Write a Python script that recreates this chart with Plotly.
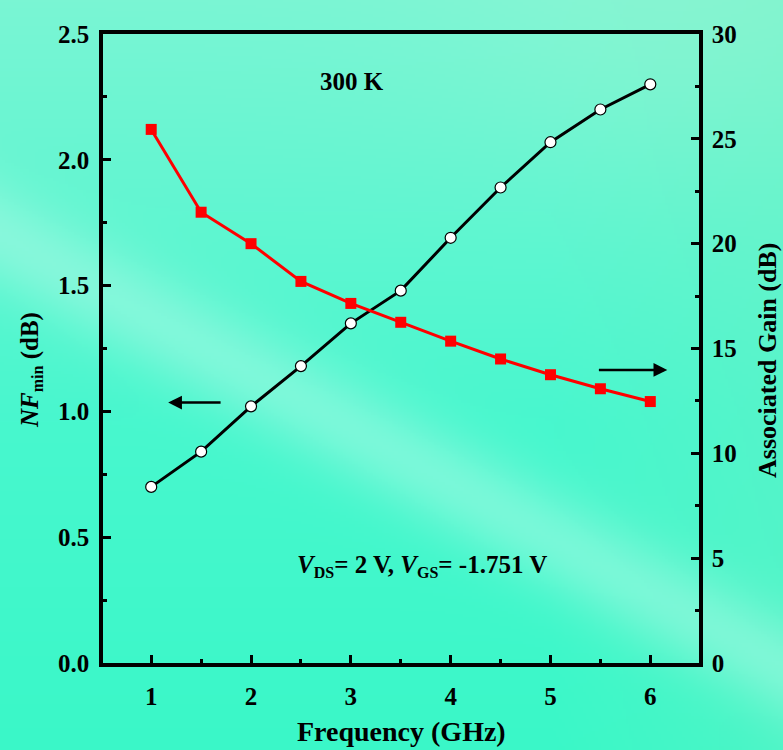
import base64, struct, zlib
import numpy as np
import plotly.graph_objects as go

# ---------------- data ----------------
freq_ghz = [1.0, 1.5, 2.0, 2.5, 3.0, 3.5, 4.0, 4.5, 5.0, 5.5, 6.0]
nf_min_db = [0.70, 0.84, 1.02, 1.18, 1.35, 1.48, 1.69, 1.89, 2.07, 2.20, 2.30]
assoc_gain_db = [25.45, 21.5, 20.0, 18.2, 17.15, 16.25, 15.35, 14.5, 13.75, 13.08, 12.47]
x_ticks = [1, 2, 3, 4, 5, 6]
nf_ticks = [0.0, 0.5, 1.0, 1.5, 2.0, 2.5]
gain_ticks = [0, 5, 10, 15, 20, 25, 30]

W, H = 783, 750
ML, MR, MT, MB = 103, 84, 34, 87
PW, PH = W - ML - MR, H - MT - MB
XR = [0.517, 6.488]
YR = [0.0, 2.5]


def px_x(p):  # pixel -> paper (decoration placement only)
    return (p - ML) / PW


def px_y(p):
    return (H - MB - p) / PH


# ---------------- background picture (soft teal gradient with diagonal streak) ----------------
def make_bg(w=261, h=250):
    sx, sy = W / w, H / h
    yy, xx = np.mgrid[0:h, 0:w].astype(float)
    X, Y = xx * sx, yy * sy
    top = np.array([122, 245, 212.0])
    mid = np.array([72, 247, 206.0])
    bot = np.array([58, 248, 200.0])
    t = np.clip(Y / 420.0, 0, 1)[..., None]
    base = top * (1 - t) + mid * t
    t2 = np.clip((Y - 420) / 330.0, 0, 1)[..., None]
    base = base * (1 - t2) + bot * t2
    rgt = np.clip((X - 550) / 233.0, 0, 1)[..., None] * 0.35
    base = base * (1 - rgt) + np.array([110, 240, 195.0]) * rgt
    d = (Y - (235 + 0.55 * X)) / np.sqrt(1 + 0.55 ** 2)
    g = np.exp(-(d / 48.0) ** 2)[..., None] * 0.45
    base = base * (1 - g) + np.array([185, 250, 232.0]) * g
    tr = np.exp(-(((X - 700) / 260.0) ** 2 + ((Y - 0) / 160.0) ** 2))[..., None] * 0.35
    base = base * (1 - tr) + np.array([160, 246, 210.0]) * tr
    arr = np.clip(base, 0, 255).astype(np.uint8)
    raw = b"".join(b"\x00" + arr[i].tobytes() for i in range(h))

    def chunk(tag, data):
        c = struct.pack(">I", len(data)) + tag + data
        return c + struct.pack(">I", zlib.crc32(tag + data) & 0xFFFFFFFF)

    png = b"\x89PNG\r\n\x1a\n" + chunk(b"IHDR", struct.pack(">IIBBBBB", w, h, 8, 2, 0, 0, 0)) \
        + chunk(b"IDAT", zlib.compress(raw, 9)) + chunk(b"IEND", b"")
    return "data:image/png;base64," + base64.b64encode(png).decode()


FONT = "Liberation Serif, Times New Roman, serif"

fig = go.Figure()
fig.add_trace(go.Scatter(
    x=freq_ghz, y=nf_min_db, mode="lines+markers", name="NFmin",
    line=dict(color="black", width=3),
    marker=dict(symbol="circle", size=11, color="white", line=dict(color="black", width=1.2)),
))
fig.add_trace(go.Scatter(
    x=freq_ghz, y=assoc_gain_db, yaxis="y2", mode="lines+markers", name="Associated Gain",
    line=dict(color="#ff0000", width=3),
    marker=dict(symbol="square", size=11, color="#ff0000"),
))

tickfont = dict(family=FONT, size=25, color="black", weight="bold")
axis_common = dict(showline=True, linewidth=3.5, linecolor="black", ticks="inside",
                   ticklen=8, tickwidth=3, tickcolor="black", showgrid=False, zeroline=False,
                   tickfont=tickfont, automargin=False)

fig.update_layout(
    width=W, height=H,
    margin=dict(l=ML, r=MR, t=MT, b=MB, autoexpand=False),
    paper_bgcolor="#55f3cc",
    plot_bgcolor="rgba(0,0,0,0)",
    showlegend=False,
    xaxis=dict(range=XR, tickvals=x_ticks, mirror=True,
               minor=dict(ticks="inside", ticklen=4, tickwidth=3, tickcolor="black", dtick=0.5, tick0=0.5),
               ticklabelstandoff=8,
               **axis_common),
    yaxis=dict(range=YR, tickvals=nf_ticks, tickformat=".1f",
               minor=dict(ticks="inside", ticklen=4, tickwidth=3, tickcolor="black", dtick=0.25, tick0=0),
               ticklabelstandoff=5,
               **axis_common),
    yaxis2=dict(range=[0, 30], tickvals=gain_ticks, overlaying="y", side="right",
                minor=dict(ticks="inside", ticklen=4, tickwidth=3, tickcolor="black", dtick=2.5, tick0=0),
                ticklabelstandoff=4,
                **axis_common),
    images=[dict(source=make_bg(), xref="paper", yref="paper",
                 x=px_x(0), y=px_y(0), sizex=W / PW, sizey=H / PH,
                 xanchor="left", yanchor="top", sizing="stretch", layer="below")],
)

annot_font = dict(family=FONT, size=25, color="black", weight="bold")
fig.add_annotation(x=3.01, y=2.31, xref="x", yref="y", text="300 K", showarrow=False, font=annot_font)
fig.add_annotation(x=3.71, y=0.385, xref="x", yref="y",
                   text="<i>V</i><sub><span style='font-size:16px'>DS</span></sub>= 2 V, "
                        "<i>V</i><sub><span style='font-size:16px'>GS</span></sub>= -1.751 V",
                   showarrow=False, font=annot_font)
# arrows pointing to the relevant axes
fig.add_annotation(x=1.17, y=1.035, ax=1.71, ay=1.035, xref="x", yref="y", axref="x", ayref="y",
                   text="", showarrow=True, arrowhead=2, arrowsize=1.1, arrowwidth=2.5, arrowcolor="black")
fig.add_annotation(x=6.17, y=1.165, ax=5.47, ay=1.165, xref="x", yref="y", axref="x", ayref="y",
                   text="", showarrow=True, arrowhead=2, arrowsize=1.1, arrowwidth=2.5, arrowcolor="black")
# axis titles
fig.add_annotation(x=0.5, y=px_y(731), xref="paper", yref="paper",
                   text="Frequency (GHz)", showarrow=False, xanchor="center", yanchor="middle",
                   font=dict(family=FONT, size=28, color="black", weight="bold"))
fig.add_annotation(x=px_x(31), y=px_y(370), xref="paper", yref="paper",
                   text="<i>NF</i><sub><span style='font-size:16px'>min</span></sub> (dB)",
                   textangle=-90, showarrow=False, xanchor="center", yanchor="middle",
                   font=dict(family=FONT, size=25, color="black", weight="bold"))
fig.add_annotation(x=px_x(767), y=px_y(361), xref="paper", yref="paper",
                   text="Associated Gain (dB)", textangle=-90, showarrow=False,
                   xanchor="center", yanchor="middle",
                   font=dict(family=FONT, size=26, color="black", weight="bold"))

fig.write_html("out.html")
